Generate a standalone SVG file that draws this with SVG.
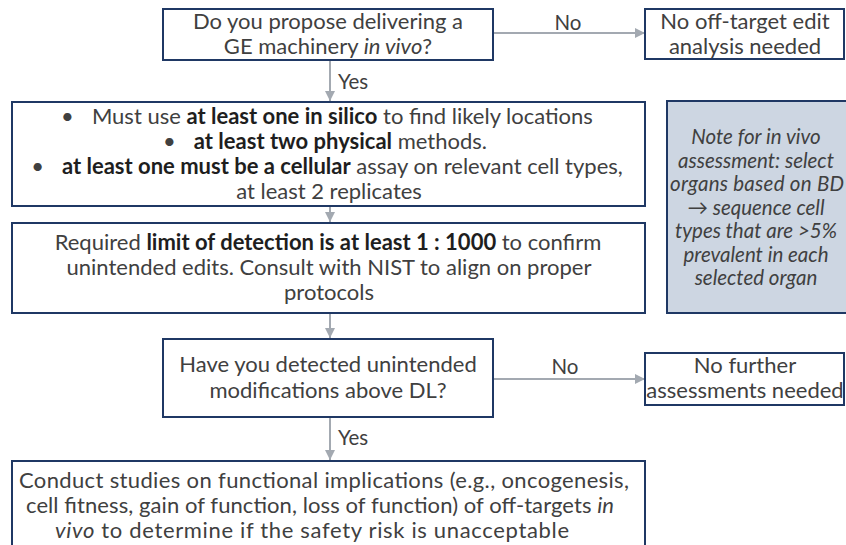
<svg xmlns="http://www.w3.org/2000/svg" width="846" height="545" viewBox="0 0 846 545">
<style>
.box{fill:#ffffff;stroke:#1f3864;stroke-width:2}
.note{fill:#cdd6e2;stroke:#1f3864;stroke-width:2}
.t{font-family:Lato,"Liberation Sans",sans-serif;font-size:22px;fill:#404040;text-anchor:middle}
.n{font-family:Lato,"Liberation Sans",sans-serif;font-size:20.5px;fill:#404040;text-anchor:middle;font-style:italic}
.b{font-weight:bold;fill:#1e1e1e}
.i{font-style:italic}
.lbl{font-family:Lato,"Liberation Sans",sans-serif;font-size:20.5px;fill:#404040}
.c{stroke:#a3a9b1;stroke-width:2;fill:none}
</style>
<defs>
<marker id="ah" viewBox="0 0 10 10" refX="10" refY="5" markerWidth="10" markerHeight="10" markerUnits="userSpaceOnUse" orient="auto">
<path d="M0,0 L10,5 L0,10 Z" fill="#a3a9b1"/>
</marker>
</defs>
<g id="connectors">
<line class="c" x1="493" y1="33" x2="645" y2="33" marker-end="url(#ah)"/>
<text class="lbl" x="568" y="30" text-anchor="middle">No</text>
<line class="c" x1="330" y1="61" x2="330" y2="101" marker-end="url(#ah)"/>
<text class="lbl" x="338" y="89">Yes</text>
<line class="c" x1="330" y1="207" x2="330" y2="222" marker-end="url(#ah)"/>
<line class="c" x1="330" y1="314" x2="330" y2="338" marker-end="url(#ah)"/>
<line class="c" x1="493" y1="379" x2="645" y2="379" marker-end="url(#ah)"/>
<text class="lbl" x="565" y="374" text-anchor="middle">No</text>
<line class="c" x1="330" y1="418" x2="330" y2="460" marker-end="url(#ah)"/>
<text class="lbl" x="338" y="445">Yes</text>
</g>
<g id="q1">
<rect class="box" x="163" y="9" width="330" height="51"/>
<text class="t" x="328" y="29">Do you propose delivering a</text>
<text class="t" x="328" y="54">GE machinery <tspan class="i">in vivo</tspan>?</text>
</g>
<g id="no-analysis">
<rect class="box" x="645" y="9" width="199" height="50"/>
<text class="t" x="745" y="29">No off-target edit</text>
<text class="t" x="745" y="54">analysis needed</text>
</g>
<g id="methods">
<rect class="box" x="12" y="102" width="633" height="104"/>
<text class="t" x="327" y="124">•<tspan dx="18">Must use </tspan><tspan class="b">at least one in silico</tspan> to find likely locations</text>
<text class="t" x="325" y="149">•<tspan dx="18" class="b">at least two physical</tspan> methods.</text>
<text class="t" x="327" y="174">•<tspan dx="18" class="b">at least one must be a cellular</tspan> assay on relevant cell types,</text>
<text class="t" x="329" y="199">at least 2 replicates</text>
</g>
<g id="detection">
<rect class="box" x="12" y="223" width="633" height="90"/>
<text class="t" x="328" y="250">Required <tspan class="b">limit of detection is at least 1 : 1000</tspan> to confirm</text>
<text class="t" x="329" y="275">unintended edits. Consult with NIST to align on proper</text>
<text class="t" x="329" y="300">protocols</text>
</g>
<g id="note">
<rect class="note" x="667" y="101" width="180" height="212"/>
<text class="n" x="756" y="144">Note for in vivo</text>
<text class="n" x="756" y="167.5">assessment: select</text>
<text class="n" x="757" y="191" textLength="174">organs based on BD</text>
<text class="n" x="756" y="214.5">→ sequence cell</text>
<text class="n" x="756" y="238">types that are &gt;5%</text>
<text class="n" x="756" y="261.5">prevalent in each</text>
<text class="n" x="756" y="285">selected organ</text>
</g>
<g id="q2">
<rect class="box" x="163" y="339" width="330" height="78"/>
<text class="t" x="328" y="372">Have you detected unintended</text>
<text class="t" x="328" y="398">modifications above DL?</text>
</g>
<g id="no-further">
<rect class="box" x="645" y="353" width="199" height="52"/>
<text class="t" x="745" y="373">No further</text>
<text class="t" x="745" y="398">assessments needed</text>
</g>
<g id="functional">
<rect class="box" x="12" y="461" width="633" height="100"/>
<text class="t" x="324" y="488" textLength="610">Conduct studies on functional implications (e.g., oncogenesis,</text>
<text class="t" x="320" y="513" textLength="588">cell fitness, gain of function, loss of function) of off-targets <tspan class="i">in</tspan></text>
<text class="t" x="312" y="538" textLength="514"><tspan class="i">vivo</tspan> to determine if the safety risk is unacceptable</text>
</g>
</svg>
